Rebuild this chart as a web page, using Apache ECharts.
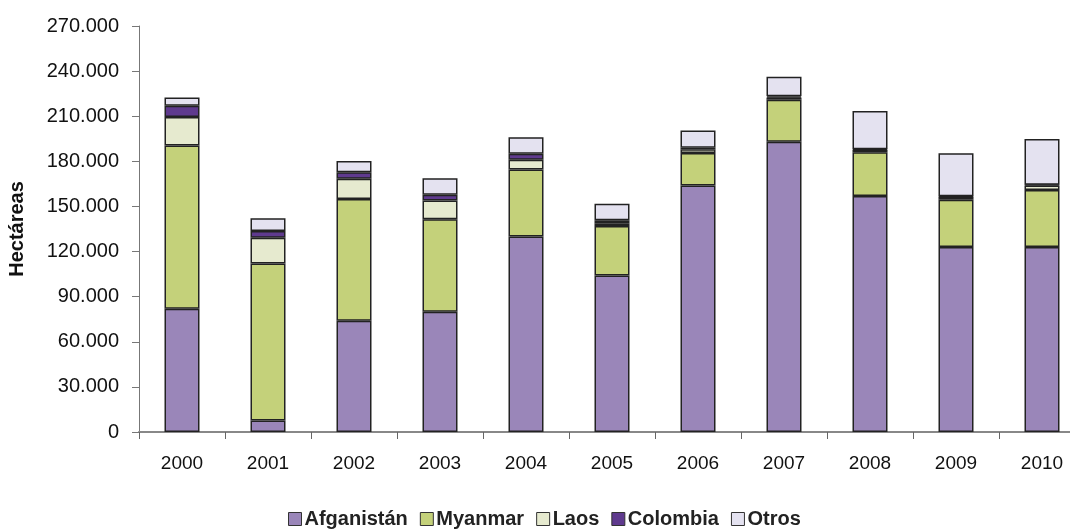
<!DOCTYPE html>
<html>
<head>
<meta charset="utf-8">
<script src="https://cdn.jsdelivr.net/npm/echarts@6/dist/echarts.min.js"></script>
<style>
  html, body { margin: 0; padding: 0; background: #fff; }
  #main { width: 1070px; height: 529px; }
</style>
</head>
<body>
<div id="main"></div>
<script>
// categorías (años)
var years = ['2000', '2001', '2002', '2003', '2004', '2005', '2006', '2007', '2008', '2009', '2010'];

// hectáreas por país
var afganistan = [82000, 7600, 74000, 80000, 130000, 104000, 164000, 193000, 157000, 123000, 123000];
var myanmar = [108500, 104500, 81000, 61500, 44500, 33000, 21500, 28000, 29000, 31500, 38000];
var laos = [19000, 17000, 13500, 12500, 6500, 1800, 2500, 1500, 1600, 1900, 3000];
var colombia = [7500, 4500, 4200, 3800, 4000, 2000, 1000, 700, 400, 400, 400];
var otros = [5500, 8500, 7500, 11000, 11000, 11000, 11500, 13000, 25500, 28500, 30500];

var names = ['Afganistán', 'Myanmar', 'Laos', 'Colombia', 'Otros'];
var colors = ['#9A86B9', '#C4D17A', '#E6EACF', '#5F3A8E', '#E4E2F0'];
var ticks = [0, 30000, 60000, 90000, 120000, 150000, 180000, 210000, 240000, 270000];

function fmt(v) {
  return String(v).replace(/\B(?=(\d{3})+(?!\d))/g, '.');
}

var myChart = echarts.init(document.getElementById('main'));
var seriesData = [afganistan, myanmar, laos, colombia, otros];

myChart.setOption({
  animation: false,
  color: colors,
  textStyle: { fontFamily: 'Liberation Sans, Arial, sans-serif' },
  grid: { left: 139, width: 946, top: 26, bottom: 97, containLabel: false, outerBoundsMode: 'none' },
  legend: {
    top: 504,
    left: 283,
    icon: 'rect',
    itemWidth: 13,
    itemHeight: 13,
    itemGap: 12,
    itemStyle: { borderColor: '#333', borderWidth: 1 },
    textStyle: { fontSize: 20, fontWeight: 'bold', color: '#222', padding: [0, 0, 0, -2] },
    data: names
  },
  xAxis: {
    type: 'category',
    data: years,
    axisLine: { lineStyle: { color: '#888', width: 2 } },
    axisTick: { show: true, length: 7, lineStyle: { color: '#666' } },
    axisLabel: { fontSize: 19, color: '#111', margin: 22 }
  },
  yAxis: {
    type: 'value',
    min: 0,
    max: 270000,
    interval: 30000,
    name: 'Hectáreas',
    nameLocation: 'middle',
    nameGap: 112,
    nameTextStyle: { fontSize: 20, fontWeight: 'bold', color: '#111' },
    axisLine: { show: true, lineStyle: { color: '#777' } },
    axisTick: { show: true, length: 7, lineStyle: { color: '#777' } },
    splitLine: { show: false },
    axisLabel: {
      fontSize: 20,
      color: '#111',
      margin: 20,
      formatter: function (v) { return ticks.indexOf(v) >= 0 ? fmt(v) : ''; }
    }
  },
  series: seriesData.map(function (d, i) {
    return {
      name: names[i],
      type: 'bar',
      stack: 'total',
      barWidth: 35,
      data: d,
      itemStyle: { color: colors[i], borderColor: '#222', borderWidth: 1.5 }
    };
  })
});
</script>
</body>
</html>
